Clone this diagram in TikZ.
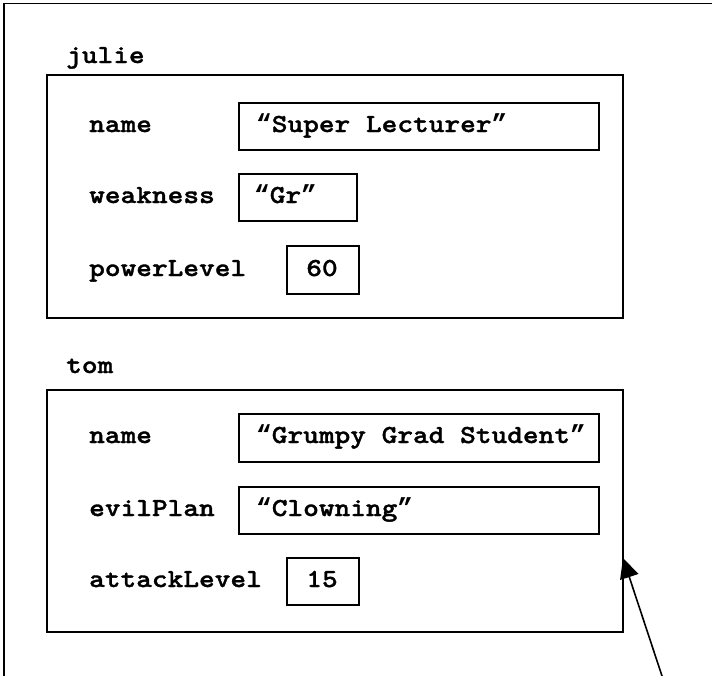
\documentclass[tikz,border=0pt]{standalone}
\usepackage{fontspec}
\newfontfamily\courfont{lmmonolt10-bold.otf}[FakeStretch=1.15,FakeBold=1.3]
\newfontfamily\quotefont{Liberation Mono Bold}
\newcommand{\myopq}{{\quotefont “}}
\newcommand{\myclq}{{\quotefont ”}}
\usetikzlibrary{arrows.meta}
\begin{document}
\begin{tikzpicture}[x=1pt,y=-1pt,
  frame/.style={draw, line width=1.6pt},
  objbox/.style={draw, line width=1.8pt, anchor=north west, inner sep=0pt},
  valbox/.style={draw, line width=1.8pt, anchor=north west, inner sep=0pt},
  txt/.style={font=\courfont\fontsize{26}{30}\selectfont, anchor=base west, inner sep=0pt},
  arr/.style={line width=1.6pt, -{Triangle[length=20pt,width=19pt]}}
]
\useasboundingbox (0,0) rectangle (712,675);
\draw[frame] (4,676) -- (4,3.5) -- (713,3.5);

% julie
\node[txt] (julie) at (66,63) {julie};
\node[objbox, minimum width=576pt, minimum height=243pt] (jbox) at (46,74) {};
\node[txt] (jname) at (89,132) {name};
\node[valbox, minimum width=360pt, minimum height=47pt] (jnamev) at (238,102) {};
\node[txt] (jnamet) at (256,132) {\myopq Super Lecturer\myclq};
\node[txt] (jweak) at (89,203) {weakness};
\node[valbox, minimum width=118pt, minimum height=47pt] (jweakv) at (238,173) {};
\node[txt] (jweakt) at (254,203) {\myopq Gr\myclq};
\node[txt] (jpow) at (89,276) {powerLevel};
\node[valbox, minimum width=72pt, minimum height=48pt] (jpowv) at (286,245) {};
\node[txt, anchor=base] (jpowt) at (322,276) {60};

% tom
\node[txt] (tom) at (66,373) {tom};
\node[objbox, minimum width=576pt, minimum height=242pt] (tbox) at (46,389) {};
\node[txt] (tname) at (89,443) {name};
\node[valbox, minimum width=360pt, minimum height=48pt] (tnamev) at (238,413) {};
\node[txt] (tnamet) at (256,443) {\myopq Grumpy Grad Student\myclq};
\node[txt] (tevil) at (89,516) {evilPlan};
\node[valbox, minimum width=360pt, minimum height=47pt] (tevilv) at (238,486) {};
\node[txt] (tevilt) at (256,516) {\myopq Clowning\myclq};
\node[txt] (tatt) at (89,587) {attackLevel};
\node[valbox, minimum width=72pt, minimum height=47pt] (tattv) at (286,557) {};
\node[txt, anchor=base] (tattt) at (322,587) {15};

% arrow
\coordinate (arrstart) at (662,676);
\coordinate (arrtip) at (623,558);
\draw[arr] (arrstart) -- (arrtip);
\end{tikzpicture}
\end{document}
